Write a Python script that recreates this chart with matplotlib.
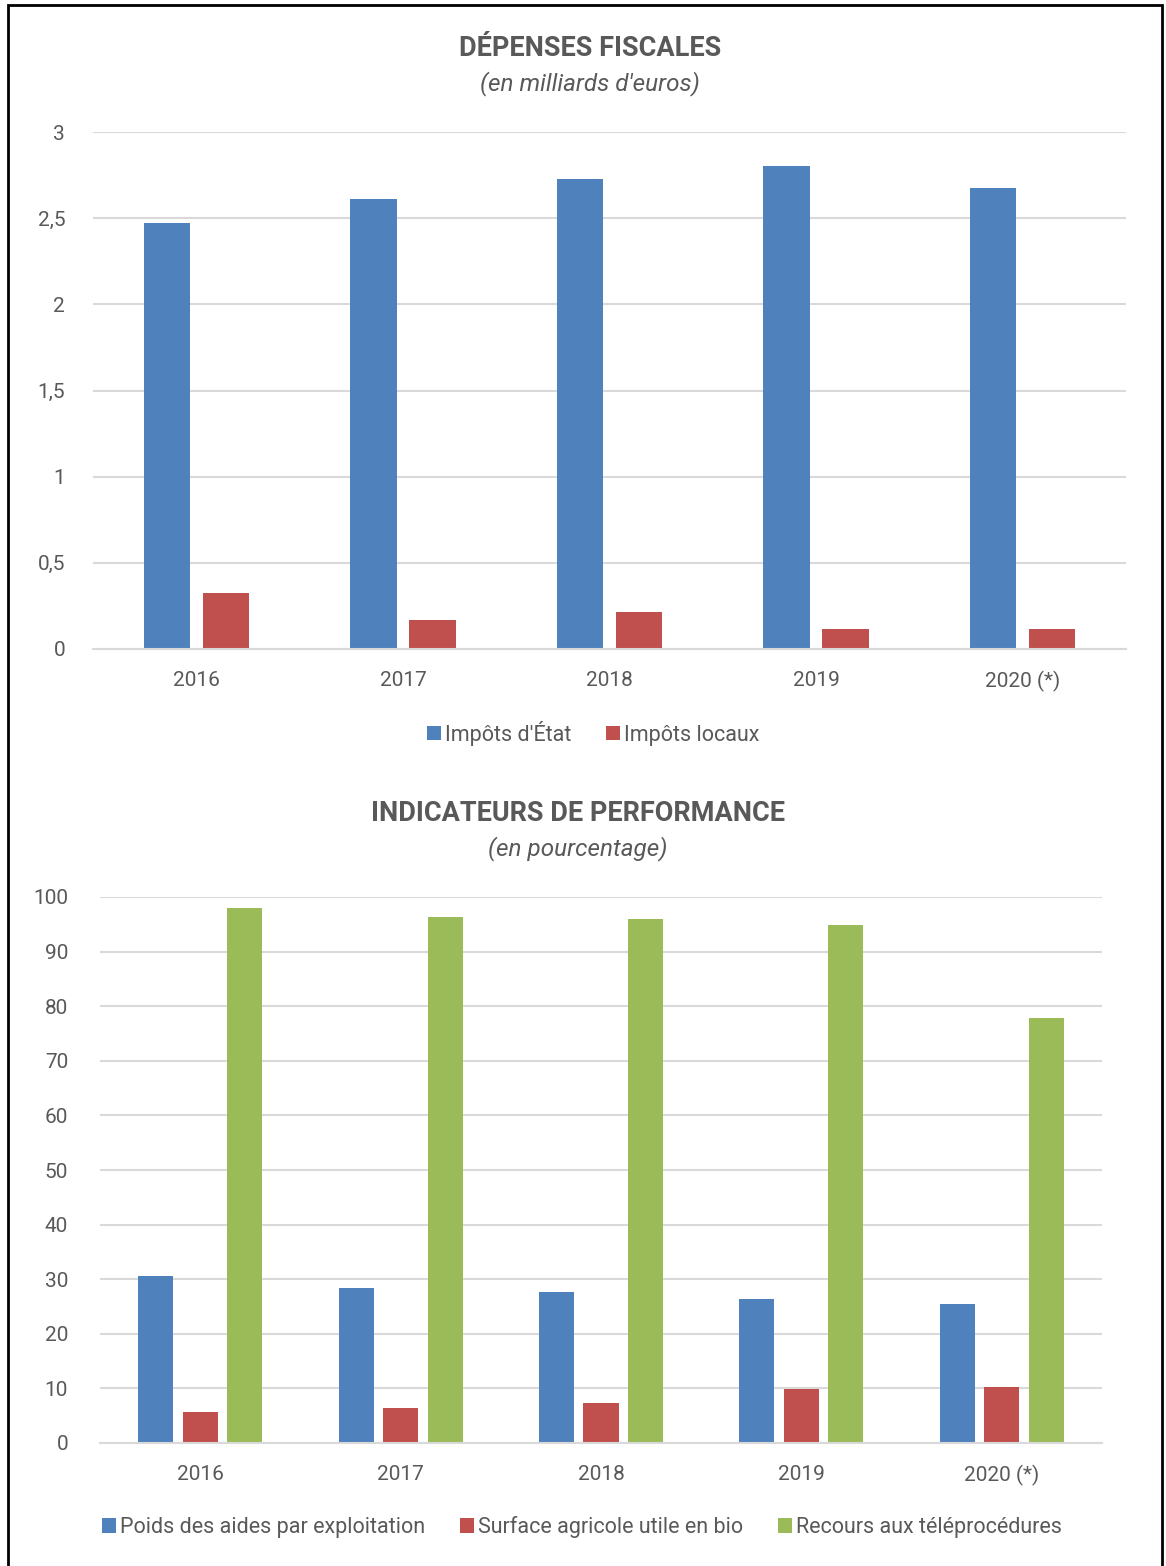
import numpy as np
import matplotlib.pyplot as plt
from matplotlib.patches import Rectangle

plt.rcParams['font.family'] = ['Roboto', 'DejaVu Sans']

# data
years = ['2016', '2017', '2018', '2019', '2020 (*)']
impots_etat = [2.47, 2.61, 2.73, 2.80, 2.675]
impots_locaux = [0.325, 0.17, 0.215, 0.115, 0.115]

poids_aides = [30.6, 28.3, 27.6, 26.4, 25.5]
surface_bio = [5.6, 6.4, 7.4, 9.8, 10.2]
teleprocedures = [98.0, 96.3, 96.0, 94.9, 77.8]

BLUE = '#4f81bd'
RED = '#c0504d'
GREEN = '#9bbb59'
GREY = '#595959'
GRID = '#d9d9d9'

W, H = 1166, 1566
fig = plt.figure(figsize=(W / 100, H / 100), dpi=100)


def px_axes(left, top, right, bottom):
    return fig.add_axes([left / W, 1 - bottom / H, (right - left) / W, (bottom - top) / H])


def style(ax, ymax, step, fmt):
    ax.set_ylim(0, ymax)
    ax.set_yticks(np.arange(0, ymax + step / 2, step))
    ax.set_yticklabels([fmt(v) for v in np.arange(0, ymax + step / 2, step)])
    ax.grid(axis='y', color=GRID, lw=1.5)
    ax.set_axisbelow(True)
    for s in ['top', 'right', 'left']:
        ax.spines[s].set_visible(False)
    ax.spines['bottom'].set_color(GRID)
    ax.spines['bottom'].set_linewidth(1.5)
    ax.tick_params(length=0, labelsize=15, colors=GREY)
    ax.tick_params(axis='y', pad=20)
    ax.tick_params(axis='x', pad=16)
    ax.set_xlim(-0.5, len(years) - 0.5)
    ax.set_xticks(range(len(years)))
    ax.set_xticklabels(years)


# top chart
x = np.arange(len(years))
ax1 = px_axes(93, 132, 1126, 649)
ax1.bar(x - 0.143, impots_etat, 0.225, color=BLUE, label="Impôts d'État")
ax1.bar(x + 0.143, impots_locaux, 0.225, color=RED, label='Impôts locaux')
style(ax1, 3, 0.5, lambda v: ('%g' % v).replace('.', ','))
fig.text(590 / W, 1 - 48 / H, 'DÉPENSES FISCALES', ha='center', va='center',
         fontsize=19.5, fontweight='bold', color=GREY)
fig.text(590 / W, 1 - 84 / H, "(en milliards d'euros)", ha='center', va='center',
         fontsize=17.5, style='italic', color=GREY)
fig.legend(*ax1.get_legend_handles_labels(), loc='center', bbox_to_anchor=(593 / W, 1 - 733 / H),
           ncol=2, frameon=False, fontsize=15.5, labelcolor=GREY, handlelength=0.65,
           handleheight=0.65, handletextpad=0.2, columnspacing=1.6)

# bottom chart
ax2 = px_axes(100, 897, 1102, 1443)
ax2.bar(x - 0.222, poids_aides, 0.175, color=BLUE, label='Poids des aides par exploitation')
ax2.bar(x, surface_bio, 0.175, color=RED, label='Surface agricole utile en bio')
ax2.bar(x + 0.222, teleprocedures, 0.175, color=GREEN, label='Recours aux téléprocédures')
style(ax2, 100, 10, lambda v: '%d' % v)
ax2.tick_params(axis='y', pad=23)
fig.text(578 / W, 1 - 813 / H, 'INDICATEURS DE PERFORMANCE', ha='center', va='center',
         fontsize=19.5, fontweight='bold', color=GREY)
fig.text(578 / W, 1 - 849 / H, '(en pourcentage)', ha='center', va='center',
         fontsize=17.5, style='italic', color=GREY)
fig.legend(*ax2.get_legend_handles_labels(), loc='center', bbox_to_anchor=(582 / W, 1 - 1527 / H),
           ncol=3, frameon=False, fontsize=15.5, labelcolor=GREY, handlelength=0.65,
           handleheight=0.65, handletextpad=0.2, columnspacing=1.6)

# outer frame
fig.patches.append(Rectangle((8 / W, -0.01), (1162 - 8) / W, 1 - 5 / H + 0.01,
                             transform=fig.transFigure, fill=False, ec='black', lw=2))

fig.savefig('out.png', dpi=100)
